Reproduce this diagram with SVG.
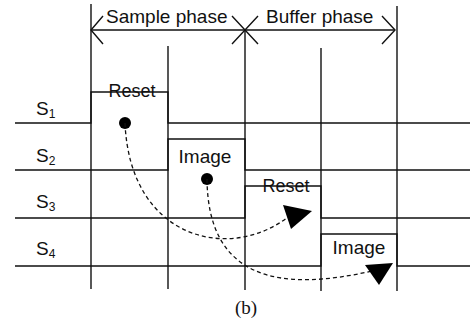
<svg xmlns="http://www.w3.org/2000/svg" width="470" height="322" viewBox="0 0 470 322">
  <style>
    .ln { fill: none; stroke: #111; stroke-width: 1.4; }
    .dash { fill: none; stroke: #111; stroke-width: 1.3; stroke-dasharray: 4 3; }
    .head { fill: #000; stroke: none; }
    .dot { fill: #000; }
    .t { font-family: "Liberation Sans", Arial, sans-serif; fill: #111; }
    .lab { font-size: 18px; }
    .sig { font-size: 19px; }
    .sub { font-size: 12px; }
    .ph { font-size: 19px; }
    .cap { font-family: "Liberation Serif", "Times New Roman", serif; font-size: 19px; fill: #111; }
  </style>
  <rect width="470" height="322" fill="#fff"/>

  <!-- time division grid -->
  <g id="grid">
    <line class="ln" x1="91" y1="4" x2="91" y2="289"/>
    <line class="ln" x1="168" y1="46" x2="168" y2="289"/>
    <line class="ln" x1="245" y1="30" x2="245" y2="290"/>
    <line class="ln" x1="321" y1="48" x2="321" y2="291"/>
    <line class="ln" x1="397" y1="6" x2="397" y2="291"/>
  </g>

  <!-- phase spans -->
  <g id="sample-phase">
    <line class="ln" x1="91" y1="30" x2="245" y2="30"/>
    <path class="ln" d="M103,16 L91,30 L103,44 M232,16 L245,30 L232,44"/>
    <text class="t ph" x="106" y="23">Sample phase</text>
  </g>
  <g id="buffer-phase">
    <line class="ln" x1="245" y1="30" x2="395" y2="30"/>
    <path class="ln" d="M258,16 L245,30 L258,44 M382,16 L395,30 L382,44"/>
    <text class="t ph" x="266" y="23">Buffer phase</text>
  </g>

  <!-- signal rows -->
  <g id="s1">
    <path class="ln" d="M15,123 H91 V92 H168 V123 H470"/>
    <text class="t sig" x="36" y="115">S<tspan class="sub" dy="3">1</tspan></text>
    <text class="t lab" x="132" y="97" text-anchor="middle">Reset</text>
  </g>
  <g id="s2">
    <path class="ln" d="M15,170 H168 V139 H245 V170 H470"/>
    <text class="t sig" x="36" y="162">S<tspan class="sub" dy="3">2</tspan></text>
    <text class="t ph" x="205" y="163" text-anchor="middle">Image</text>
  </g>
  <g id="s3">
    <path class="ln" d="M15,218 H245 V186 H321 V218 H470"/>
    <text class="t sig" x="36" y="208">S<tspan class="sub" dy="3">3</tspan></text>
    <text class="t lab" x="286" y="192" text-anchor="middle">Reset</text>
  </g>
  <g id="s4">
    <path class="ln" d="M15,266 H321 V234 H397 V266 H470"/>
    <text class="t sig" x="36" y="255">S<tspan class="sub" dy="3">4</tspan></text>
    <text class="t ph" x="359" y="254" text-anchor="middle">Image</text>
  </g>

  <!-- transfer paths -->
  <g id="connectors">
    <circle class="dot" cx="125" cy="123" r="6"/>
    <path class="dash" d="M125,123 C130,240 230,262 288,217"/>
    <polygon class="head" points="283,205 312,211 291,229"/>
    <circle class="dot" cx="207" cy="179" r="6"/>
    <path class="dash" d="M207,179 C208,280 280,292 372,271"/>
    <polygon class="head" points="365,265 393,263 379,285"/>
  </g>

  <text class="cap" x="246" y="314" text-anchor="middle">(b)</text>
</svg>
